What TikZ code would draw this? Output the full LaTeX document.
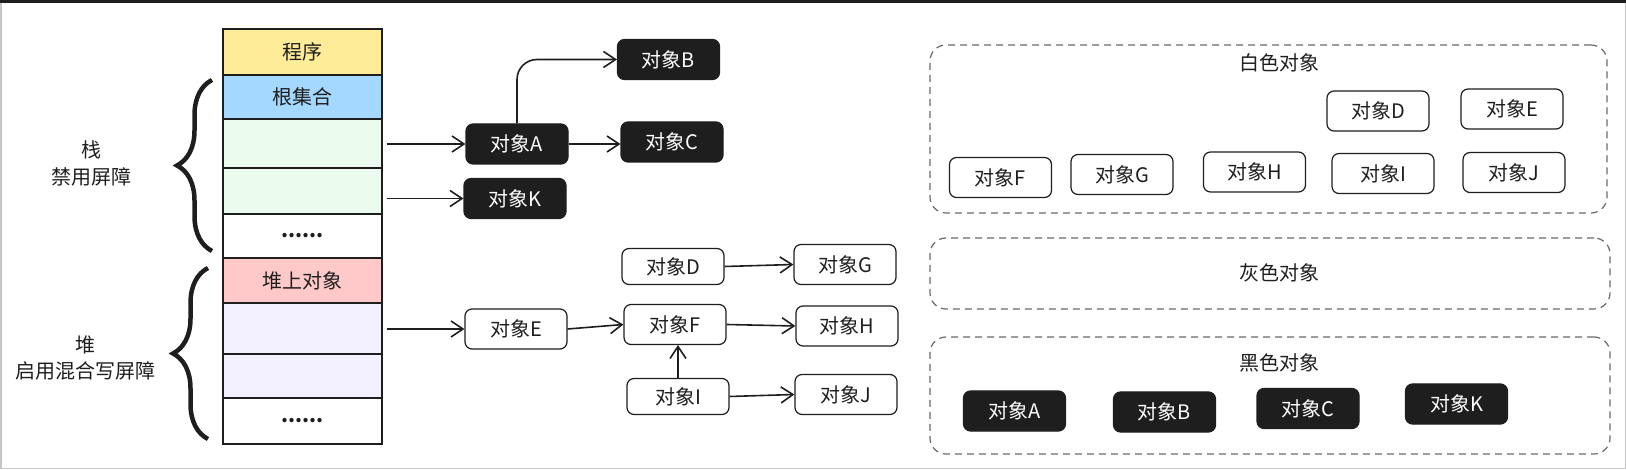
\documentclass[tikz,border=0pt]{standalone}
\usepackage{fontspec}
\newfontfamily\cjk{Noto Sans CJK SC}
\usepackage{tikz}
\usetikzlibrary{arrows.meta,decorations.pathreplacing}
\definecolor{ink}{HTML}{1E1E1E}
\definecolor{dashgray}{HTML}{6A6A6A}
\definecolor{progfill}{HTML}{FFEC99}
\definecolor{rootfill}{HTML}{A5D8FF}
\definecolor{stackfill}{HTML}{EBFBEE}
\definecolor{heapobjfill}{HTML}{FFC9C9}
\definecolor{heapfill}{HTML}{F3F0FF}
\tikzset{
cell/.style={draw=ink, line width=1.2pt, minimum width=159pt, minimum height=#1, inner sep=0pt},
obj/.style={draw=ink, line width=1.2pt, rounded corners=7pt, minimum width=102pt, minimum height=40pt, inner sep=2pt, fill=white},
blackobj/.style={obj, fill=ink, text=white},
group/.style={draw=dashgray, dash pattern=on 7pt off 5pt, line width=1.2pt, rounded corners=16pt, inner sep=0pt},
ref/.style={-{Straight Barb[length=12pt,width=16pt]}, line width=1.6pt, draw=ink},
}
\tikzstyle{bigbrace} = [decorate, decoration={brace, amplitude=35pt}, draw=ink]

\begin{document}
\begin{tikzpicture}[x=1pt, y=-1pt, font=\cjk\fontsize{20}{27}\selectfont, text=ink]
\useasboundingbox (0,0) rectangle (1626,470);
\draw[gray!45, line width=1.5pt] (0.75,0.75) rectangle (1625.25,468.5);
\draw[ink, line width=3pt] (0,1.5) -- (1626,1.5);

\node[cell=46, fill=progfill] (prog) at (302.5,52) {程序};
\node[cell=44, fill=rootfill] (root) at (302.5,97) {根集合};
\node[cell=49, fill=stackfill] (stk1) at (302.5,143.5) {};
\node[cell=46, fill=stackfill] (stk2) at (302.5,191) {};
\node[cell=44] (stkdots) at (302.5,236) {\textbf{......}};
\node[cell=45, fill=heapobjfill] (heapobj) at (302.5,280.5) {堆上对象};
\node[cell=51, fill=heapfill] (heap1) at (302.5,328.5) {};
\node[cell=44, fill=heapfill] (heap2) at (302.5,376) {};
\node[cell=46] (heapdots) at (302.5,421) {\textbf{......}};

\draw[bigbrace, line width=4.5pt] (212,251) -- (212,80);
\draw[bigbrace, line width=4.5pt] (208,439) -- (208,268);
\node[align=center] (stacklbl) at (91,163) {栈\\禁用屏障};
\node[align=center] (heaplbl) at (86,358) {堆\\启用混合写屏障};

\node[blackobj] (A) at (517,144) {对象A};
\node[blackobj] (B) at (668.5,59.5) {对象B};
\node[blackobj] (C) at (672,142) {对象C};
\node[blackobj] (K) at (515,198.5) {对象K};
\node[obj, minimum height=36pt] (D) at (673,266.5) {对象D};
\node[obj] (E) at (516,329) {对象E};
\node[obj] (F) at (675,324.5) {对象F};
\node[obj] (G) at (845,264.5) {对象G};
\node[obj] (H) at (847,326) {对象H};
\node[obj, minimum height=36pt] (I) at (678,396.5) {对象I};
\node[obj] (J) at (846,394.5) {对象J};

\draw[ref, shorten <=4pt] (stk1.east |- A) -- (A.west);
\draw[ref, shorten <=4pt] (stk2.east |- K) -- (K.west);
\draw[ref, shorten <=4pt] (heap1.east |- E) -- (E.west);
\draw[ref, rounded corners=20pt] (A.north) |- (B.west);
\draw[ref] (A.east) -- (A.east -| C.west);
\draw[ref] (E.east) -- (F.west);
\draw[ref] (D.east) -- (G.west);
\draw[ref] (F.east) -- (H.west);
\draw[ref] (I.east) -- (J.west);
\draw[ref] (I.north) -- (I.north |- F.south);

\node[group, minimum width=677pt, minimum height=168pt] (whitegrp) at (1268.5,129) {};
\node (whitelbl) at (1279,63) {白色对象};
\node[obj] (wD) at (1378,111) {对象D};
\node[obj] (wE) at (1512,109) {对象E};
\node[obj] (wF) at (1000.5,177.5) {对象F};
\node[obj] (wG) at (1122,174.5) {对象G};
\node[obj] (wH) at (1254.5,172) {对象H};
\node[obj] (wI) at (1383,173.5) {对象I};
\node[obj] (wJ) at (1514,172.5) {对象J};

\node[group, minimum width=680pt, minimum height=71pt] (graygrp) at (1270,273.5) {};
\node (graylbl) at (1279,273) {灰色对象};

\node[group, minimum width=680pt, minimum height=117pt] (blackgrp) at (1270,395.5) {};
\node (blacklbl) at (1279,363) {黑色对象};
\node[blackobj] (bA) at (1014.5,411) {对象A};
\node[blackobj] (bB) at (1164.5,412) {对象B};
\node[blackobj] (bC) at (1308,408.5) {对象C};
\node[blackobj] (bK) at (1456.5,404) {对象K};
\end{tikzpicture}
\end{document}
